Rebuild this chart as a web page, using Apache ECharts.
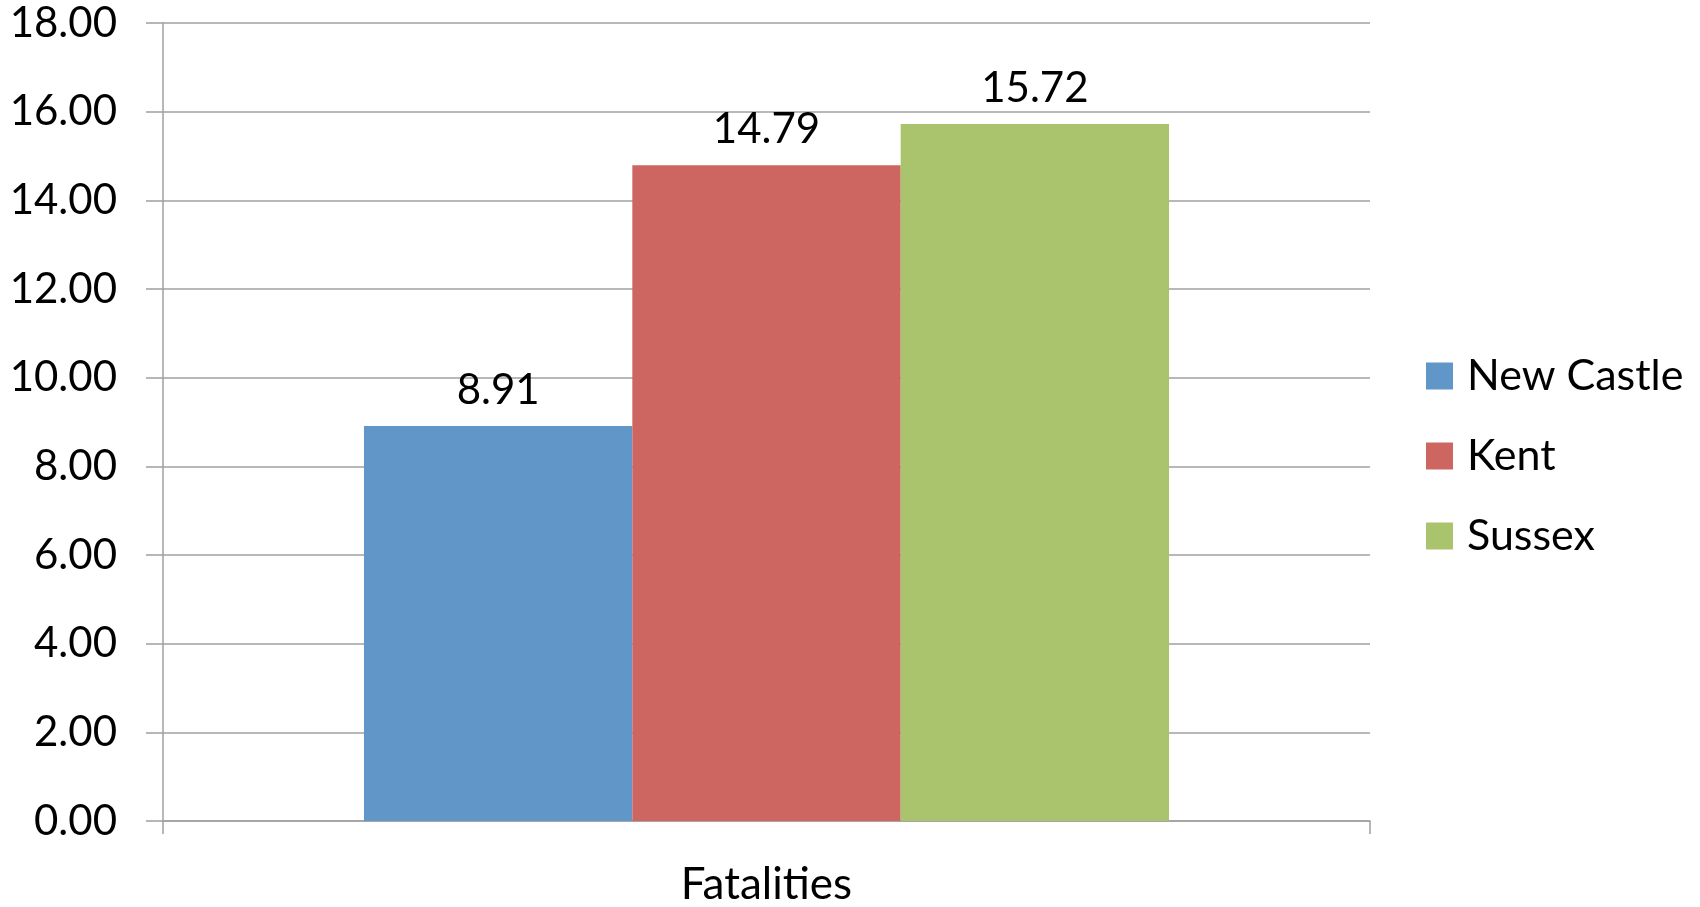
<!DOCTYPE html>
<html>
<head>
<meta charset="utf-8">
<script src="https://cdn.jsdelivr.net/npm/echarts@6/dist/echarts.min.js"></script>
<style>
html,body{margin:0;padding:0;background:#fff;}
#c{width:1700px;height:907px;}
</style>
</head>
<body>
<div id="c"></div>
<script>
const categories = ['Fatalities'];
const seriesNames = ['New Castle', 'Kent', 'Sussex'];
const newCastle = [8.91];
const kent = [14.79];
const sussex = [15.72];
const colors = ['#6196C9', '#CD6660', '#AAC46D'];

const FONT = 'Lato';
const chart = echarts.init(document.getElementById('c'));
const mk = (name, data, color) => ({
  name: name,
  type: 'bar',
  data: data,
  barGap: '0%',
  barCategoryGap: '33.3%',
  itemStyle: { color: color },
  label: {
    show: true,
    position: 'top',
    distance: 15,
    color: '#000',
    fontFamily: FONT,
    fontSize: 42,
    formatter: p => p.value.toFixed(2)
  }
});
chart.setOption({
  animation: false,
  backgroundColor: '#fff',
  grid: { left: 163, right: 330, top: 23, bottom: 80, containLabel: false },
  legend: {
    orient: 'vertical',
    left: 1421,
    top: 347,
    itemWidth: 27,
    itemHeight: 27,
    itemGap: 32,
    icon: 'rect',
    textStyle: { fontFamily: FONT, fontSize: 43, color: '#000', lineHeight: 48, padding: [0, 0, 0, 9] },
    data: seriesNames
  },
  xAxis: {
    type: 'category',
    data: categories,
    axisLine: { lineStyle: { color: '#A0A0A0', width: 1.5 } },
    axisTick: { show: true, length: 13, alignWithLabel: false, lineStyle: { color: '#A0A0A0', width: 1.5 } },
    axisLabel: { fontFamily: FONT, fontSize: 44, color: '#000', margin: 42 }
  },
  yAxis: {
    type: 'value',
    min: 0,
    max: 18,
    interval: 2,
    axisLine: { show: true, lineStyle: { color: '#A0A0A0', width: 1.5 } },
    axisTick: { show: true, length: 17, lineStyle: { color: '#A0A0A0', width: 1.5 } },
    splitLine: { show: true, lineStyle: { color: '#A0A0A0', width: 1.5 } },
    axisLabel: { fontFamily: FONT, fontSize: 42, color: '#000', margin: 46, formatter: v => v.toFixed(2) }
  },
  series: [
    mk(seriesNames[0], newCastle, colors[0]),
    mk(seriesNames[1], kent, colors[1]),
    mk(seriesNames[2], sussex, colors[2])
  ]
});
</script>
</body>
</html>
